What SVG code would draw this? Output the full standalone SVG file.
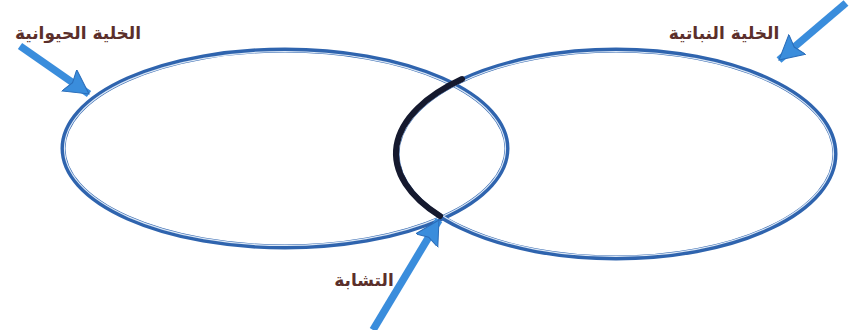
<svg xmlns="http://www.w3.org/2000/svg" width="858" height="330" viewBox="0 0 858 330">
<style>
.ring{fill:none;stroke:#2f64ae;stroke-width:5}
.ringIn{fill:none;stroke:#dce8f6;stroke-width:1.2}
.shaft{stroke:#3a8ddc;stroke-width:7.5;stroke-linecap:butt}
.label{font-family:"DejaVu Sans",sans-serif;font-weight:bold;font-size:17px;fill:#5b2f2b;text-anchor:middle}
</style>
<defs>
<marker id="head" markerUnits="userSpaceOnUse" markerWidth="30" markerHeight="30" refX="24" refY="13" orient="auto">
<path d="M0,0 L24,13 L0,26 L4,13 Z" fill="#3a8ddc" stroke="#2a6cb8" stroke-width="1"/>
</marker>
</defs>
<rect width="858" height="330" fill="#ffffff"/>
<g id="animal-cell">
<ellipse class="ring" cx="285" cy="148.5" rx="222" ry="98.5"/>
<ellipse class="ringIn" cx="285" cy="148.5" rx="220.5" ry="97"/>
</g>
<g id="plant-cell">
<ellipse class="ring" cx="616" cy="154" rx="219" ry="104"/>
<ellipse class="ringIn" cx="616" cy="154" rx="217.5" ry="102.5"/>
</g>
<g id="overlap">
<path d="M462,79 A219 104 0 0 0 440,216" fill="none" stroke="#15192e" stroke-width="6" stroke-linecap="round"/>
</g>
<g id="connectors">
<line class="shaft" x1="20" y1="46" x2="89" y2="94" marker-end="url(#head)"/>
<line class="shaft" x1="846" y1="3" x2="779" y2="60" marker-end="url(#head)"/>
<line class="shaft" x1="373" y1="330" x2="439" y2="220" marker-end="url(#head)"/>
</g>
<g id="label-animal"><text class="label" x="78" y="39">الخلية الحيوانية</text></g>
<g id="label-plant"><text class="label" x="724" y="39">الخلية النباتية</text></g>
<g id="label-similar"><text class="label" x="364" y="286">التشابة</text></g>
</svg>
